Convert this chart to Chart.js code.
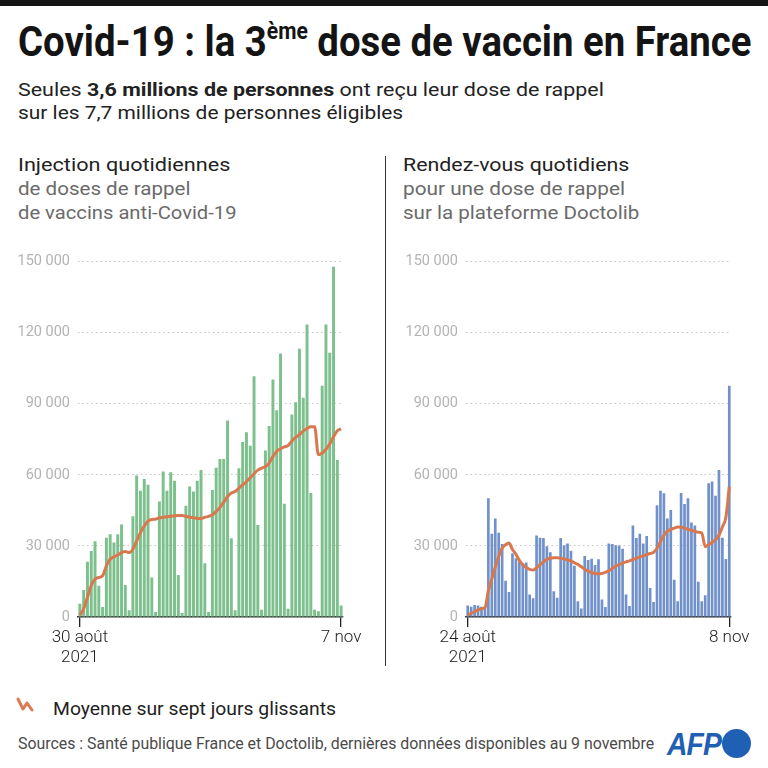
<!DOCTYPE html>
<html lang="fr">
<head>
<meta charset="utf-8">
<script src="https://cdn.jsdelivr.net/npm/chart.js@4.4.1/dist/chart.umd.min.js"></script>
<style>
  html, body { margin:0; padding:0; background:#fff; }
  body { width:768px; height:768px; position:relative; overflow:hidden; font-family: Roboto, "Liberation Sans", sans-serif; }
  .t { position:absolute; white-space:nowrap; transform-origin:0 0; display:inline-block; }
  #topbar { position:absolute; left:0; top:0; width:768px; height:6px; background:#141414; }
  #title { left:18px; top:21px; font-family:"Liberation Sans Narrow", Roboto, sans-serif; font-weight:700; font-size:42px; line-height:42px; color:#141414; }
  #title sup { font-size:0.55em; position:relative; top:-0.05em; vertical-align:top; line-height:1; }
  .sub { font-size:19px; line-height:19px; color:#222; }
  .grey { color:#6a6a6a; }
  #divider { position:absolute; left:385px; top:156px; width:1px; height:510px; background:#333; }
  canvas { position:absolute; }
  #afp { left:667px; top:728px; font-family:"Liberation Sans", Roboto, sans-serif; font-weight:900; font-style:italic; font-size:32px; line-height:32px; color:#1f60b4; letter-spacing:-1px; }
  #afpdot { position:absolute; left:722px; top:729px; width:29px; height:29px; border-radius:50%; background:#1f60b4; }
</style>
</head>
<body>
<div id="topbar"></div>
<div class="t" id="title" data-w="733">Covid-19 : la 3<sup>ème</sup> dose de vaccin en France</div>

<div class="t sub" style="left:18px;top:80px" data-w="586">Seules <b>3,6 millions de personnes</b> ont reçu leur dose de rappel</div>
<div class="t sub" style="left:18px;top:103px" data-w="385">sur les 7,7 millions de personnes éligibles</div>

<div class="t sub" style="left:18px;top:155px" data-w="212">Injection quotidiennes</div>
<div class="t sub grey" style="left:18px;top:179px" data-w="172">de doses de rappel</div>
<div class="t sub grey" style="left:18px;top:203px" data-w="219">de vaccins anti-Covid-19</div>

<div class="t sub" style="left:403px;top:155px" data-w="226">Rendez-vous quotidiens</div>
<div class="t sub grey" style="left:403px;top:179px" data-w="222">pour une dose de rappel</div>
<div class="t sub grey" style="left:403px;top:203px" data-w="236">sur la plateforme Doctolib</div>

<div id="divider"></div>

<canvas id="left" width="385" height="425" style="left:0px;top:245px;width:385px;height:425px"></canvas>
<canvas id="right" width="383" height="425" style="left:385px;top:245px;width:383px;height:425px"></canvas>

<svg style="position:absolute;left:14px;top:696px" width="26" height="20">
  <polyline points="4,3 9,13 13,7 18,14" fill="none" stroke="#dc7a52" stroke-width="3" stroke-linejoin="round" stroke-linecap="round"/>
</svg>
<div class="t sub" style="left:53px;top:699px" data-w="283">Moyenne sur sept jours glissants</div>

<div class="t" style="left:18px;top:736px;font-size:16px;line-height:16px;color:#4a4a4a" data-w="636">Sources : Santé publique France et Doctolib, dernières données disponibles au 9 novembre</div>

<div class="t" id="afp" data-w="54">AFP</div>
<div id="afpdot"></div>

<script>
// ---------- DATA ----------
// Left chart: daily booster injections, 30 Aug 2021 -> 7 Nov 2021 (70 days)
const leftStart = "2021-08-30";
const leftDays = 70;
const leftBars = [
  5600,11400,23300,27900,32000,13200,4200,33500,34900,31400,
  34900,39000,13500,2800,42500,59700,53300,58300,55800,16700,
  2100,48800,61400,53300,61100,57500,17700,1700,47000,55100,
  53000,57500,62100,22700,2100,53600,63000,66700,66700,83000,
  33200,2800,62800,73900,78000,72300,101600,38800,3100,70300,
  80600,100300,87300,111200,47800,3500,85500,90700,113300,92600,
  123500,52300,3100,2400,97600,123500,111600,147900,66300,4900
];
const leftAvg = [
  700,3500,8400,13300,16000,16700,17400,21600,24400,25400,
  26200,27200,27600,27200,28600,32100,35600,38400,40500,41200,
  41300,41900,42100,42300,42500,42700,42800,42800,42500,42100,
  41900,41600,41600,42100,42500,43200,44600,46300,48500,50900,
  52300,53000,54400,55800,57200,58800,60500,62000,62800,63500,
  65000,67800,70000,71000,71800,72400,74300,75800,77000,78500,
  79600,80300,80300,68500,69200,70800,73000,76100,78600,79400
];
const leftTickLabels = [["30 août","2021"], "7 nov"];

// Right chart: daily Doctolib booster appointments, 24 Aug 2021 -> 8 Nov 2021 (77 days)
const rightStart = "2021-08-24";
const rightDays = 77;
const rightBars = [
  4900,4300,5100,4900,4300,4200,50100,35100,41600,35600,
  30800,15300,10600,26900,24800,23400,22700,23000,9500,7900,
  34400,33500,33300,29900,27300,10900,8100,33400,30300,31000,
  28000,21600,6700,3600,25800,24100,24600,22000,24400,7400,
  4200,31000,30800,30300,30200,28800,9500,4600,38600,33300,
  35100,31000,34200,12200,6300,47200,53300,52200,41600,45200,
  15700,6700,52300,47700,50100,39900,38600,14900,6700,9200,
  56500,57200,51200,62100,33500,24500,97600
];
const rightAvg = [
  800,1500,2300,3000,3500,3900,11100,16000,21000,25500,
  29000,30500,31200,28500,26500,23900,22000,20900,20100,19800,
  20800,22000,23300,24300,24800,25000,25000,24800,24500,24200,
  23600,22900,22200,21200,20200,19400,18800,18400,18300,18400,
  18800,19500,20500,21500,22100,22700,23300,23700,24200,24800,
  25400,25800,26300,26800,27300,29000,31800,34500,36200,37000,
  37500,38000,37900,37500,37000,36700,36100,35800,35500,29700,
  30600,31500,32600,34500,38000,42000,55000
];
const rightTickLabels = [["24 août","2021"], "8 nov"];

const yTicks = [0, 30000, 60000, 90000, 120000, 150000];

// ---------- HELPERS ----------
function dayLabels(start, n) {
  const out = [];
  const d = new Date(start + "T12:00:00");
  for (let i = 0; i < n; i++) {
    out.push(d.toISOString().slice(0,10));
    d.setDate(d.getDate() + 1);
  }
  return out;
}
function fmt(v) { return String(v).replace(/\B(?=(\d{3})+(?!\d))/g, " "); }

function makeChart(id, labels, bars, avg, tickLabels, barColor, yWidth, padRight) {
  const last = labels.length - 1;
  return new Chart(document.getElementById(id), {
    data: {
      labels,
      datasets: [
        { type: "line", data: avg, borderColor: "#d9784e", borderWidth: 3, pointRadius: 0,
          cubicInterpolationMode: "monotone", fill: false, order: 1 },
        { type: "bar", data: bars, backgroundColor: barColor, barPercentage: 0.78,
          categoryPercentage: 1.0, order: 2 }
      ]
    },
    options: {
      responsive: false, animation: false, devicePixelRatio: 1,
      layout: { padding: { top: 13, right: padRight, bottom: 0, left: 0 } },
      plugins: { legend: { display: false }, tooltip: { enabled: false } },
      scales: {
        x: {
          offset: true,
          afterFit: s => { s.height = 53; },
          grid: { offset: false, drawOnChartArea: false, drawTicks: true, tickLength: 10, lineWidth: 1.3,
                  color: c => (c.index === 0 || c.index === last) ? "#222" : "rgba(0,0,0,0)" },
          border: { display: true, color: "#333", width: 1.5 },
          ticks: { autoSkip: false, maxRotation: 0, minRotation: 0, padding: 1, color: "#222",
                   font: { family: "Roboto", size: 17, weight: 300, lineHeight: 1.15 },
                   callback: (v, i) => i === 0 ? tickLabels[0] : (i === last ? tickLabels[1] : "") }
        },
        y: {
          min: yTicks[0], max: yTicks[yTicks.length - 1],
          afterFit: s => { s.width = yWidth; },
          afterBuildTicks: s => { s.ticks = yTicks.map(v => ({ value: v })); },
          grid: { drawTicks: false, lineWidth: 1,
                  color: c => (c.tick && c.tick.value === 0) ? "rgba(0,0,0,0)" : "#c4c4c4" },
          border: { display: false, dash: [1.5, 3] },
          ticks: { padding: 8, color: "#b3b3b3", font: { family: "Roboto", size: 14.5 },
                   callback: v => fmt(v) }
        }
      }
    }
  });
}

makeChart("left", dayLabels(leftStart, leftDays), leftBars, leftAvg, leftTickLabels, "#7dc08d", 78, 42);
makeChart("right", dayLabels(rightStart, rightDays), rightBars, rightAvg, rightTickLabels, "#7191cb", 81, 37);

// ---------- fit text widths ----------
function fit() {
  document.querySelectorAll("[data-w]").forEach(el => {
    el.style.transform = "none";
    const w = el.offsetWidth;
    if (w > 0) el.style.transform = "scaleX(" + (+el.dataset.w / w) + ")";
  });
}
fit();
if (document.fonts && document.fonts.ready) document.fonts.ready.then(fit);
</script>
</body>
</html>
